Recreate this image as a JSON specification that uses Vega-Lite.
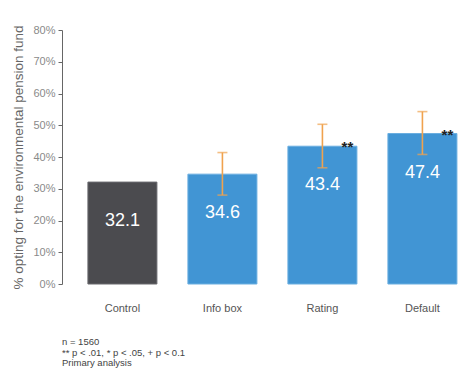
{
  "$schema": "https://vega.github.io/schema/vega-lite/v6.json",
  "width": 405,
  "height": 254,
  "autosize": {"type": "none"},
  "padding": {"left": 62, "top": 30, "right": 9, "bottom": 88},
  "background": "white",
  "config": {
    "font": "Liberation Sans",
    "view": {"stroke": null},
    "axisY": {
      "titleFontSize": 13.5,
      "titleFontWeight": "normal",
      "titleColor": "#666666",
      "titlePadding": 7,
      "labelOverlap": false,
      "labelFlush": false,
      "labelFontSize": 11,
      "labelColor": "#8a8a8a",
      "labelPadding": 3,
      "tickSize": 4,
      "tickColor": "#666666",
      "domainColor": "#666666",
      "grid": false
    }
  },
  "title": {
    "text": ["n = 1560", "** p < .01, * p < .05, + p < 0.1", "Primary analysis"],
    "orient": "bottom",
    "anchor": "start",
    "frame": "group",
    "fontSize": 9.5,
    "fontWeight": "normal",
    "color": "#444444",
    "lineHeight": 10.5,
    "offset": 24,
    "baseline": "top"
  },
  "data": {
    "values": [
      {"group": "Control", "type": "Control", "value": 32.1, "lo": null, "hi": null, "sig": ""},
      {"group": "Info box", "type": "Treatment", "value": 34.6, "lo": 28.0, "hi": 41.4, "sig": ""},
      {"group": "Rating", "type": "Treatment", "value": 43.4, "lo": 36.6, "hi": 50.3, "sig": "**"},
      {"group": "Default", "type": "Treatment", "value": 47.4, "lo": 40.8, "hi": 54.3, "sig": "**"}
    ]
  },
  "encoding": {
    "x": {
      "field": "group",
      "type": "nominal",
      "sort": ["Control", "Info box", "Rating", "Default"],
      "scale": {"paddingInner": 0.31, "paddingOuter": 0.18, "align": 0.72},
      "axis": {
        "title": null,
        "domain": false,
        "ticks": false,
        "labelAngle": 0,
        "labelPadding": 18,
        "labelFontSize": 11,
        "labelColor": "#555555"
      }
    }
  },
  "layer": [
    {
      "mark": {"type": "bar", "strokeWidth": 1},
      "encoding": {
        "y": {
          "field": "value",
          "type": "quantitative",
          "scale": {"domain": [0, 80]},
          "axis": {"title": "% opting for the environmental pension fund", "values": [0, 10, 20, 30, 40, 50, 60, 70, 80], "labelExpr": "datum.value + '%'"}
        },
        "color": {
          "field": "type",
          "type": "nominal",
          "scale": {"domain": ["Control", "Treatment"], "range": ["#4b4b4f", "#4195d4"]},
          "legend": null
        },
        "stroke": {
          "field": "type",
          "type": "nominal",
          "scale": {"domain": ["Control", "Treatment"], "range": ["#6a6a6e", "#6aaee0"]},
          "legend": null
        }
      }
    },
    {
      "transform": [{"filter": "datum.lo != null"}],
      "mark": {"type": "rule", "color": "#f0a24e", "strokeWidth": 1.6},
      "encoding": {
        "y": {"field": "lo", "type": "quantitative", "axis": {"title": "% opting for the environmental pension fund", "values": [0, 10, 20, 30, 40, 50, 60, 70, 80], "labelExpr": "datum.value + '%'"}},
        "y2": {"field": "hi"}
      }
    },
    {
      "transform": [{"filter": "datum.lo != null"}],
      "mark": {"type": "tick", "color": "#f0a24e", "thickness": 1.6, "size": 10},
      "encoding": {
        "y": {"field": "lo", "type": "quantitative", "axis": {"title": "% opting for the environmental pension fund", "values": [0, 10, 20, 30, 40, 50, 60, 70, 80], "labelExpr": "datum.value + '%'"}}
      }
    },
    {
      "transform": [{"filter": "datum.lo != null"}],
      "mark": {"type": "tick", "color": "#f0a24e", "thickness": 1.6, "size": 10},
      "encoding": {
        "y": {"field": "hi", "type": "quantitative", "axis": {"title": "% opting for the environmental pension fund", "values": [0, 10, 20, 30, 40, 50, 60, 70, 80], "labelExpr": "datum.value + '%'"}}
      }
    },
    {
      "mark": {"type": "text", "color": "white", "fontSize": 18, "baseline": "middle", "dy": 39},
      "encoding": {
        "y": {"field": "value", "type": "quantitative", "axis": {"title": "% opting for the environmental pension fund", "values": [0, 10, 20, 30, 40, 50, 60, 70, 80], "labelExpr": "datum.value + '%'"}},
        "text": {"field": "value", "type": "quantitative", "format": ".1f"}
      }
    },
    {
      "mark": {"type": "text", "color": "#222222", "fontSize": 15, "fontWeight": "bold", "baseline": "middle", "dx": 25, "dy": 1},
      "encoding": {
        "y": {"field": "value", "type": "quantitative", "axis": {"title": "% opting for the environmental pension fund", "values": [0, 10, 20, 30, 40, 50, 60, 70, 80], "labelExpr": "datum.value + '%'"}},
        "text": {"field": "sig"}
      }
    }
  ]
}
